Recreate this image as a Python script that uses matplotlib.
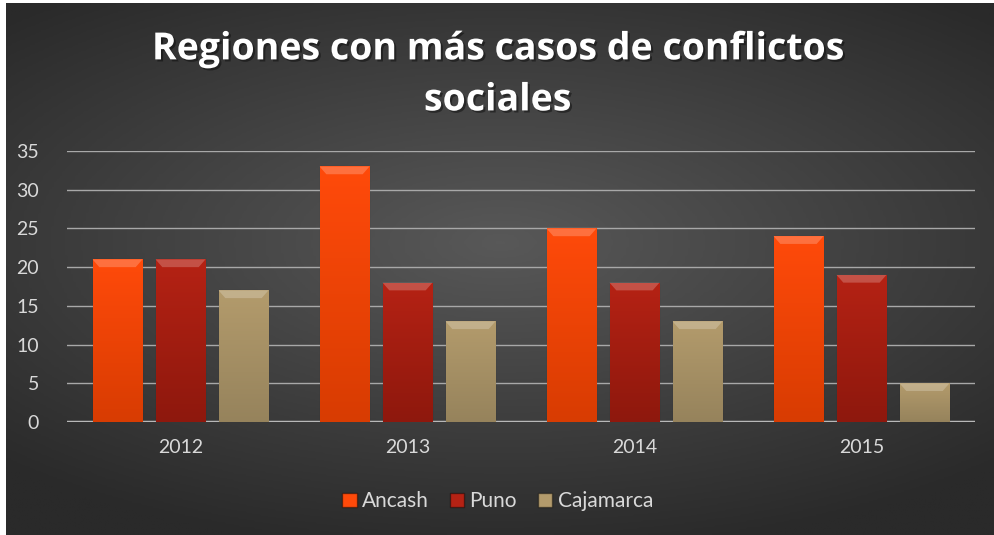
import numpy as np
import matplotlib.pyplot as plt
import matplotlib.patheffects as pe
from matplotlib.patches import Polygon
from matplotlib.colors import LinearSegmentedColormap

YEARS = ["2012", "2013", "2014", "2015"]
SERIES = ["Ancash", "Puno", "Cajamarca"]
ANCASH = [21, 33, 25, 24]
PUNO = [21, 18, 18, 19]
CAJAMARCA = [17, 13, 13, 5]
Y_TICKS = [0, 5, 10, 15, 20, 25, 30, 35]

COLORS = {"Ancash": ("#ff4a0a", "#d83c02"),
          "Puno": ("#b52214", "#8e180d"),
          "Cajamarca": ("#b39b6c", "#96835c")}

W, H, DPI = 995, 535, 100
plt.rcParams["font.family"] = ["Lato", "DejaVu Sans"]

fig = plt.figure(figsize=(W / DPI, H / DPI), dpi=DPI, facecolor="white")

# background with radial-ish gradient
bg = fig.add_axes([6 / W, 0, 989 / W, 532 / H])
bg.axis("off")
yy, xx = np.mgrid[-1:1:200j, -1:1:370j]
r = np.sqrt((xx * 0.9) ** 2 + ((yy + 0.1) * 1.1) ** 2)
bg_cmap = LinearSegmentedColormap.from_list("bg", ["#585858", "#2a2a2a"])
bg.imshow(np.clip(r, 0, 1.3), cmap=bg_cmap, aspect="auto", extent=[0, 1, 0, 1])
bg.set_xlim(0, 1)
bg.set_ylim(0, 1)

ax = fig.add_axes([67 / W, (H - 422) / H, 908 / W, 271 / H])
ax.set_facecolor("none")
for s in ax.spines.values():
    s.set_visible(False)
ax.axhline(0, color="#b8b8b8", lw=2.5, zorder=1)
for t in Y_TICKS[1:]:
    ax.axhline(t, color="#a8a8a8", lw=1, zorder=1)

width = 0.22
step = 0.2775
grad = np.linspace(0, 1, 100).reshape(-1, 1)
data = [ANCASH, PUNO, CAJAMARCA]
for k, (name, vals) in enumerate(zip(SERIES, data)):
    top_c, bot_c = COLORS[name]
    cmap = LinearSegmentedColormap.from_list(name, [bot_c, top_c])
    for i, v in enumerate(vals):
        x0 = i + (k - 1) * step - width / 2
        bars = ax.bar(x0, v, width=width, align="edge", color=top_c,
                      edgecolor="#00000055", lw=0.8, zorder=2)
        im = ax.imshow(grad, cmap=cmap, origin="lower", aspect="auto",
                       extent=[x0, x0 + width, 0, v], zorder=2.5)
        im.set_clip_path(bars[0])
        # bevel highlight at top
        d = 0.03
        bevel = Polygon([[x0, v], [x0 + width, v], [x0 + width - d, v - 1.0],
                         [x0 + d, v - 1.0]], closed=True, facecolor="white",
                        alpha=0.22, edgecolor="none", zorder=3)
        ax.add_patch(bevel)
ax.set_xlim(-0.5, 3.5)
ax.set_ylim(0, 35)

ax.set_xticks(range(len(YEARS)))
ax.set_xticklabels(YEARS)
ax.set_yticks(Y_TICKS)
ax.tick_params(length=0, colors="#d9d9d9", labelsize=14, pad=12)
ax.tick_params(axis="y", pad=20)

fig.text(0.5, 0.86, "Regiones con más casos de conflictos\nsociales",
         ha="center", va="center", color="white", fontsize=27,
         fontweight="bold", family="Open Sans", linespacing=1.45,
         path_effects=[pe.withSimplePatchShadow(offset=(1.5, -1.5),
                                                shadow_rgbFace="black",
                                                alpha=0.4)])

handles = [plt.Rectangle((0, 0), 1, 1, facecolor=COLORS[n][0],
                         edgecolor="#00000066") for n in SERIES]
fig.legend(handles, SERIES, loc="center", bbox_to_anchor=(0.5, 0.063),
           ncol=3, frameon=False, fontsize=15, labelcolor="#d9d9d9",
           handlelength=0.7, handleheight=0.7, handletextpad=0.25,
           columnspacing=1.0)

fig.savefig("out.png", dpi=DPI, facecolor="white")
